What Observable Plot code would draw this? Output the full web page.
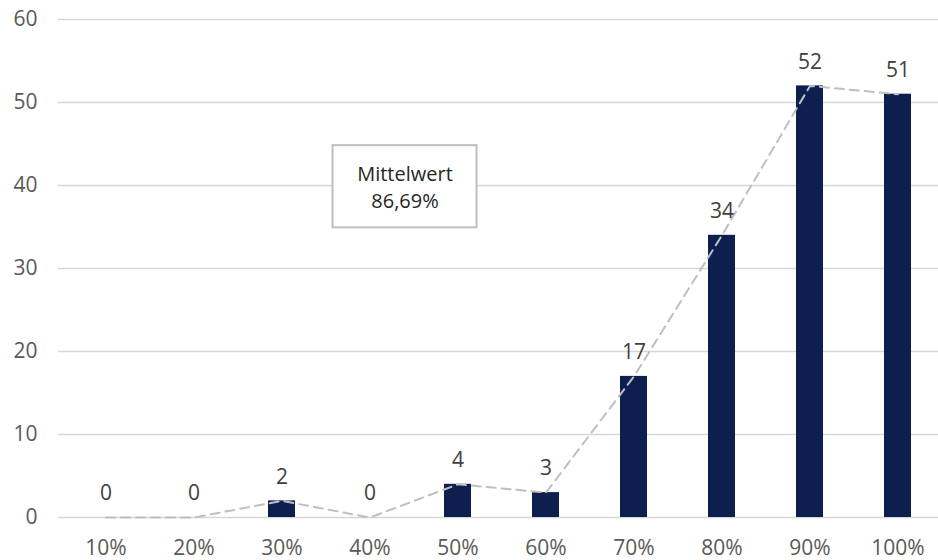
<!DOCTYPE html>
<html>
<head>
<meta charset="utf-8">
<script src="https://cdn.jsdelivr.net/npm/d3@7"></script>
<script src="https://cdn.jsdelivr.net/npm/@observablehq/plot@0.6"></script>
<style>
  html, body { margin: 0; padding: 0; background: #fff; }
  #chart { width: 938px; height: 560px; }
</style>
</head>
<body>
<div id="chart"></div>
<script>
// Score buckets and how many entries fall into each
const categories = ["10%", "20%", "30%", "40%", "50%", "60%", "70%", "80%", "90%", "100%"];
const counts = [0, 0, 2, 0, 4, 3, 17, 34, 52, 51];
const yTicks = [0, 10, 20, 30, 40, 50, 60];
const meanLabel = "Mittelwert\n86,69%";

const data = categories.map((c, i) => ({ bucket: c, count: counts[i] }));

const font = "'Segoe UI', 'Open Sans', 'Noto Sans', sans-serif";

const chart = Plot.plot({
  width: 938,
  height: 560,
  marginLeft: 58,
  marginRight: 0,
  marginTop: 19,
  marginBottom: 43,
  style: { fontFamily: font, background: "#fff" },
  x: {
    domain: categories,
    range: [57.5, 946.5],
    paddingInner: 0.69,
    paddingOuter: 0.345,
    label: null
  },
  y: { domain: [0, 60], label: null },
  marks: [
    Plot.ruleY(yTicks, { stroke: "#d6d6d6", strokeWidth: 1.5 }),
    Plot.axisY(yTicks, {
      tickSize: 0, tickPadding: 21, fontSize: 21, fill: "#595959", label: null
    }),
    Plot.axisX({
      tickSize: 0, tickPadding: 23, fontSize: 21, fill: "#595959", label: null
    }),
    Plot.barY(data, { x: "bucket", y: "count", fill: "#0c1f4e" }),
    Plot.line(data, {
      x: "bucket", y: "count",
      stroke: "#bfbfbf", strokeWidth: 2, strokeDasharray: "9,6"
    }),
    Plot.text(data, {
      x: "bucket", y: "count", text: d => String(d.count),
      dy: -24, fontSize: 21, fill: "#404040"
    }),
    // Annotation box for the mean
    Plot.rect([{ bucket: "40%", y1: 34.9, y2: 44.8 }], {
      x: "bucket", y1: "y1", y2: "y2",
      insetLeft: -23.5, insetRight: -93.5,
      fill: "#fff", stroke: "#bfbfbf", strokeWidth: 2
    }),
    Plot.text([meanLabel], {
      x: () => "40%", y: () => 40, text: d => d,
      dx: 35, fontSize: 20, lineHeight: 1.35, fill: "#262626"
    })
  ]
});

document.getElementById("chart").append(chart);
</script>
</body>
</html>
